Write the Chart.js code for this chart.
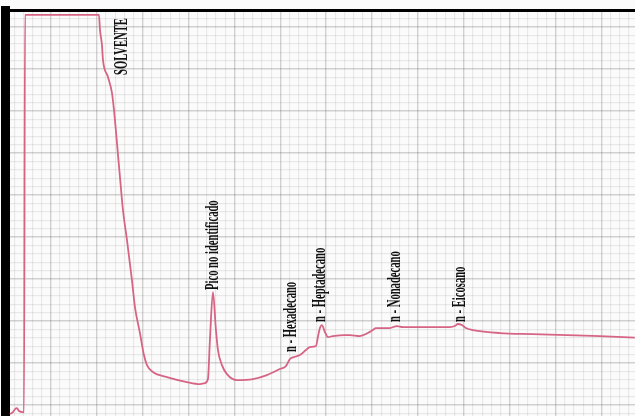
<!DOCTYPE html>
<html lang="es">
<head>
    <meta charset="UTF-8">
    <title>Cromatograma</title>
    <script src="https://cdn.jsdelivr.net/npm/chart.js"></script>
    <style>
        body { margin: 0; background: #fbfbfb; }
        canvas { display: block; }
    </style>
</head>
<body>
    <canvas id="cromatograma" width="635" height="416"></canvas>

    <script>
        // trace (x and y in paper mm, 10 mm per major division)
        const traceX = [1.09, 1.74, 2.18, 2.61, 3.05, 3.92, 4.14, 4.36, 20.48, 20.70, 21.13, 21.35, 22.44, 23.31,
            23.75, 24.40, 25.05, 25.71, 26.58, 27.67, 28.32, 29.41, 30.28, 30.94, 32.24, 35.29, 39.65, 42.48,
            43.57, 44.23, 44.66, 45.32, 45.97, 46.41, 47.28, 48.37, 50.55, 54.03, 57.08, 59.91, 61.22, 62.09,
            62.96, 64.27, 65.58, 66.45, 67.76, 68.19, 68.63, 69.06, 69.72, 70.37, 71.46, 74.07, 75.16, 77.34,
            79.08, 80.17, 80.83, 83.88, 85.40, 86.71, 93.25, 96.95, 98.04, 98.69, 99.56, 100.44, 101.96,
            107.84, 115.03, 122.44, 129.63, 137.25];
        const traceY = [-2.14, -1.67, -0.95, -0.71, -1.43, -1.67, -1.67, 92.86, 92.86, 89.29, 85.71, 82.14, 78.10, 74.29,
            70.24, 62.38, 54.29, 46.43, 39.29, 29.76, 23.33, 17.14, 11.90, 9.52, 7.86, 6.67, 5.48, 5.0,
            5.24, 6.19, 15.48, 26.90, 17.86, 13.10, 9.52, 7.38, 5.95, 6.19, 7.14, 8.57, 9.29, 10.95,
            11.43, 11.90, 13.10, 13.81, 14.05, 16.19, 18.33, 19.05, 17.38, 16.19, 16.43, 16.67, 16.67, 16.43,
            17.14, 17.86, 18.33, 18.33, 18.81, 18.57, 18.57, 18.57, 18.81, 19.29, 19.05, 18.33, 17.86,
            17.14, 16.90, 16.67, 16.43, 16.03];

        // peak names and where their (rotated) text starts
        const peakNames = ['SOLVENTE', 'Pico no identificado', 'n - Hexadecano', 'n - Heptadecano', 'n - Nonadecano', 'n - Eicosano'];
        const peakLabelX = [25.49, 45.32, 62.31, 68.63, 84.97, 99.13];
        const peakLabelY = [78.57, 27.38, 12.62, 19.76, 19.76, 19.76];

        // paper grid: fine line every 2 mm, heavy line every 10 mm
        const gridX = [];
        for (let v = 0; v <= 136; v += 2) gridX.push(v);
        const gridY = [];
        for (let v = -2; v <= 92; v += 2) gridY.push(v);

        const isMajor = ctx => ctx.tick && ctx.tick.value % 10 === 0;
        const paperLine = ctx => isMajor(ctx) ? 'rgba(0,0,0,0.17)' : 'rgba(0,0,0,0.075)';
        const paperWidth = ctx => isMajor(ctx) ? 1.4 : 1.2;

        // vertical labels next to the peaks
        const peakLabels = {
            id: 'peakLabels',
            afterDatasetsDraw(chart) {
                const ctx = chart.ctx;
                const sx = chart.scales.x, sy = chart.scales.y;
                ctx.save();
                ctx.fillStyle = '#111';
                ctx.font = 'bold 18px "Liberation Serif", serif';
                ctx.textAlign = 'left';
                ctx.textBaseline = 'middle';
                peakNames.forEach((name, i) => {
                    ctx.save();
                    ctx.translate(sx.getPixelForValue(peakLabelX[i]), sy.getPixelForValue(peakLabelY[i]));
                    ctx.rotate(-Math.PI / 2);
                    ctx.scale(0.59, 1);
                    ctx.fillText(name, 0, 0);
                    ctx.restore();
                });
                ctx.restore();
            }
        };

        new Chart(document.getElementById('cromatograma'), {
            type: 'line',
            data: {
                datasets: [{
                    data: traceX.map((x, i) => ({ x: x, y: traceY[i] })),
                    borderColor: 'rgb(214,100,132)',
                    borderWidth: 1.8,
                    pointRadius: 0,
                    cubicInterpolationMode: 'monotone',
                    fill: false
                }]
            },
            options: {
                responsive: false,
                animation: false,
                layout: { padding: { left: 5, top: 10.5, right: 0, bottom: 0 } },
                plugins: {
                    legend: { display: false },
                    tooltip: { enabled: false }
                },
                scales: {
                    x: {
                        type: 'linear',
                        position: 'top',
                        min: 0,
                        max: 137.3,
                        afterBuildTicks: s => { s.ticks = gridX.map(v => ({ value: v })); },
                        ticks: { display: false },
                        grid: { drawTicks: false, color: paperLine, lineWidth: paperWidth },
                        border: { display: true, color: '#000', width: 3 }
                    },
                    y: {
                        type: 'linear',
                        position: 'left',
                        min: -2.6,
                        max: 93.9,
                        afterBuildTicks: s => { s.ticks = gridY.map(v => ({ value: v })); },
                        ticks: { display: false },
                        grid: { drawTicks: false, color: paperLine, lineWidth: paperWidth },
                        border: { display: true, color: '#000', width: 9 }
                    }
                }
            },
            plugins: [peakLabels]
        });
    </script>
</body>
</html>
